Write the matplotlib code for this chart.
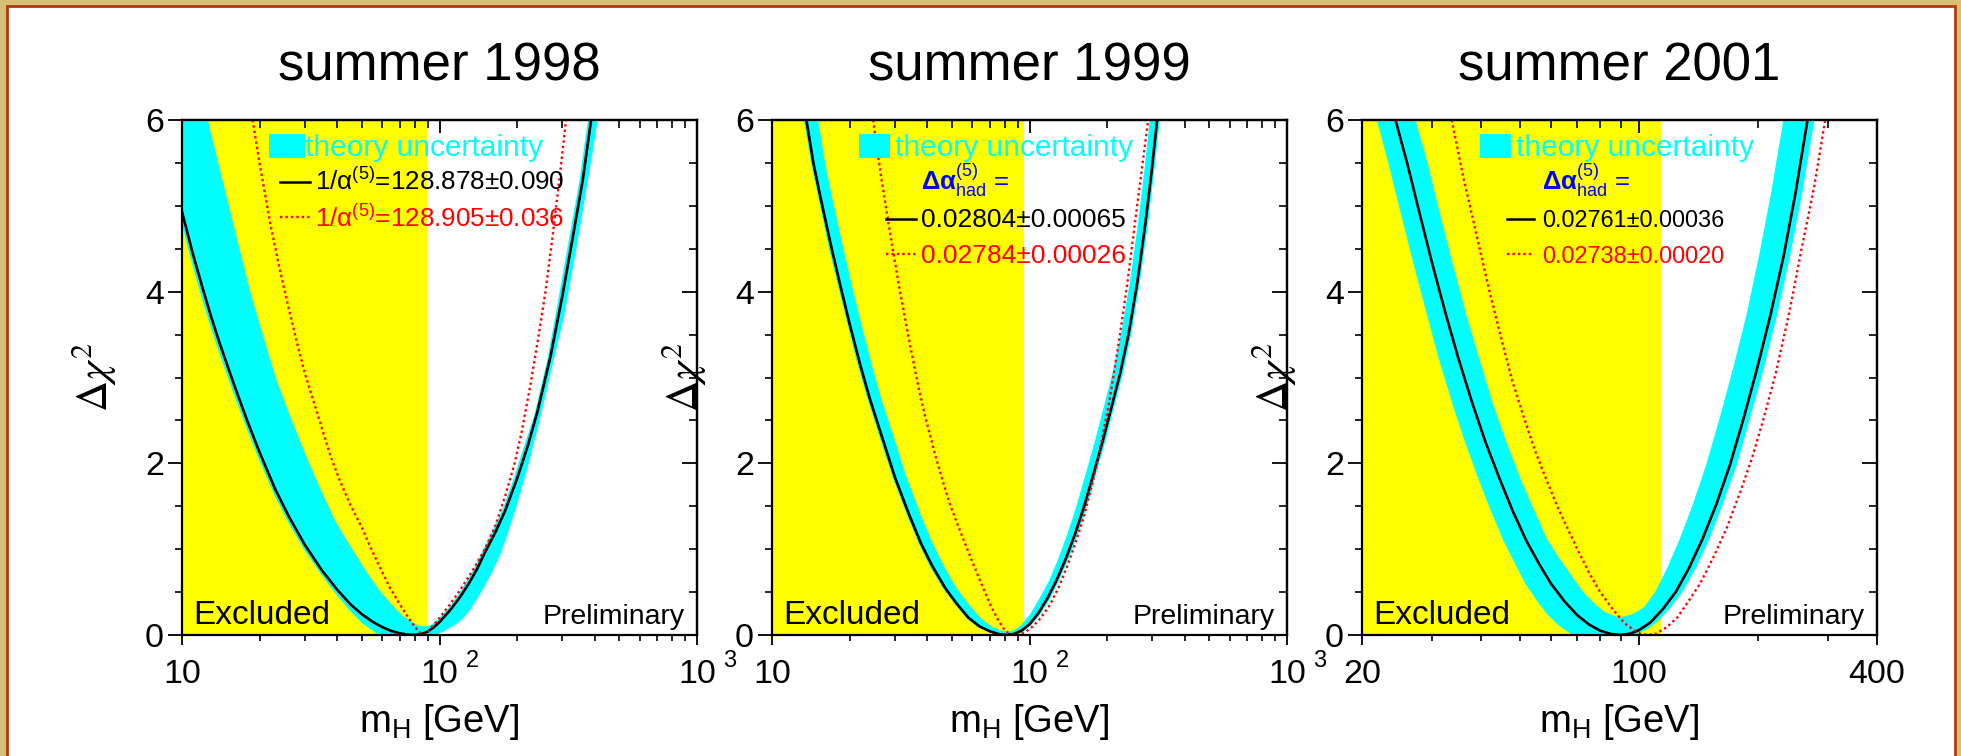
import matplotlib
matplotlib.use('Agg')
import matplotlib.pyplot as plt
from matplotlib.patches import Rectangle
from matplotlib.ticker import FixedLocator, FixedFormatter, NullFormatter

plt.rcParams['font.family'] = ['Liberation Sans', 'DejaVu Sans']
plt.rcParams['mathtext.fontset'] = 'custom'
plt.rcParams['mathtext.rm'] = 'Liberation Sans'
plt.rcParams['mathtext.it'] = 'Liberation Sans:italic'
plt.rcParams['mathtext.bf'] = 'Liberation Sans:bold'
plt.rcParams['mathtext.sf'] = 'Liberation Sans'

# ---- values: (m_H [GeV], delta chi^2) ----
titles = ['summer 1998', 'summer 1999', 'summer 2001']
lep_limit = [89.8, 95.2, 114.1]

# summer 1998
black98 = [(10, 4.93), (11, 4.45), (12, 4.05), (13, 3.7), (14, 3.4), (16, 2.9), (18, 2.48), (20, 2.13),
           (23, 1.7), (26, 1.38), (30, 1.05), (35, 0.75), (40, 0.53), (45, 0.36), (50, 0.24), (55, 0.154),
           (60, 0.091), (65, 0.047), (70, 0.02), (75, 0.005), (80, 0.0), (85, 0.01), (90, 0.04), (95, 0.09),
           (100, 0.15), (110, 0.29), (120, 0.44), (130, 0.6), (140, 0.77), (150, 0.96), (165, 1.2),
           (180, 1.45), (200, 1.82), (220, 2.2), (240, 2.6), (270, 3.25), (300, 3.95), (330, 4.65),
           (360, 5.3), (388, 6.0)]
red98 = [(18.8, 6.0), (20, 5.5), (22, 4.8), (24, 4.25), (26, 3.8), (28, 3.4), (30, 3.05), (33, 2.65),
         (37.6, 2.1), (41, 1.8), (45, 1.52), (50, 1.25), (54, 1.02), (58, 0.82), (64, 0.56), (70, 0.36),
         (75, 0.22), (80, 0.1), (84, 0.03), (87, 0.0), (90, 0.03), (95, 0.12), (100, 0.2), (110, 0.36),
         (120, 0.52), (135, 0.76), (150, 1.0), (165, 1.28), (180, 1.62), (195, 1.98), (208, 2.35),
         (225, 2.9), (240, 3.4), (258, 4.0), (275, 4.65), (292, 5.3), (310, 6.0)]
band98_outer = [(10, 4.78), (11, 4.3), (12, 3.9), (13, 3.56), (14, 3.27), (16, 2.78), (18, 2.37), (20, 2.03),
                (23, 1.61), (26, 1.3), (30, 0.98), (35, 0.69), (40, 0.46), (45, 0.28), (50, 0.14), (55, 0.05),
                (58, 0.0), (95, 0.0), (100, 0.02), (105, 0.05), (112, 0.1), (118, 0.14), (124, 0.2),
                (132, 0.3), (140, 0.42), (150, 0.57), (160, 0.73), (172, 0.93), (185, 1.2), (200, 1.52),
                (220, 1.95), (245, 2.5), (275, 3.15), (305, 3.72), (340, 4.5), (375, 5.25), (412, 6.0)]
band98_inner = [(377, 6.0), (350, 5.3), (320, 4.65), (291, 3.95), (262, 3.2), (233, 2.55), (213, 2.2),
                (194, 1.82), (175, 1.45), (160, 1.2), (146, 0.96), (136, 0.77), (126, 0.6), (116.5, 0.44),
                (107, 0.29), (97, 0.16), (92, 0.11), (87, 0.1), (83, 0.11), (77, 0.16), (71, 0.24),
                (65, 0.36), (58.5, 0.52), (51.5, 0.76), (45, 1.04), (39.5, 1.32), (34.5, 1.7), (30.2, 2.1),
                (26.3, 2.55), (23.1, 3.0), (20.6, 3.5), (18.4, 4.0), (15.2, 5.0), (12.6, 6.0), (10, 6.0)]

# summer 1999
black99 = [(13.6, 6.0), (14.5, 5.49), (15.5, 5.07), (17, 4.52), (18.5, 4.05), (20, 3.63), (22, 3.15),
           (24, 2.75), (27, 2.27), (30, 1.84), (34, 1.41), (38, 1.06), (42, 0.8), (47, 0.55), (52, 0.37),
           (58, 0.2), (64, 0.1), (70, 0.044), (76, 0.01), (81.5, 0.0), (87, 0.013), (93, 0.05),
           (100, 0.125), (108, 0.25), (117, 0.42), (127, 0.63), (138, 0.88), (150, 1.17), (163, 1.5),
           (177, 1.87), (192, 2.25), (208, 2.65), (225, 3.05), (243, 3.52), (262, 4.1), (282, 4.8),
           (298, 5.4), (313, 6.0)]
red99 = [(24.7, 6.0), (26.5, 5.35), (28.5, 4.75), (31, 4.1), (34, 3.45), (37, 2.9), (39.3, 2.55),
         (43, 2.1), (46, 1.8), (49, 1.53), (53, 1.26), (57, 1.02), (61, 0.8), (66, 0.55), (71, 0.33),
         (76, 0.16), (80, 0.06), (84, 0.01), (88, 0.0), (92, 0.01), (97, 0.04), (103, 0.1), (110, 0.19),
         (120, 0.35), (130, 0.56), (140, 0.8), (150, 1.05), (162, 1.36), (175, 1.75), (188, 2.16),
         (205, 2.75), (222, 3.4), (240, 4.1), (258, 4.85), (275, 5.5), (289, 6.0)]
band99_outer = [(13.3, 6.0), (14.2, 5.49), (15.2, 5.07), (16.6, 4.52), (18.1, 4.05), (19.6, 3.63),
                (21.5, 3.15), (23.5, 2.75), (26.4, 2.27), (29.4, 1.84), (33.3, 1.41), (37.2, 1.06),
                (41, 0.8), (46, 0.55), (51, 0.37), (56.8, 0.2), (62.5, 0.1), (68.5, 0.044), (74, 0.01),
                (78, 0.0), (86, 0.0), (90, 0.013), (95.5, 0.05), (102.5, 0.125), (110.7, 0.25), (120, 0.42),
                (130, 0.63), (141.5, 0.88), (154, 1.17), (167, 1.5), (181, 1.87), (197, 2.25), (213, 2.65),
                (231, 3.05), (249, 3.52), (268, 4.1), (289, 4.8), (305, 5.4), (321, 6.0)]
band99_inner = [(293, 6.0), (279, 5.4), (264, 4.8), (245, 4.1), (227, 3.52), (210, 3.05), (194, 2.65),
                (179, 2.25), (165, 1.87), (152, 1.5), (140, 1.17), (129, 0.88), (119, 0.63), (109, 0.42),
                (101, 0.25), (93.5, 0.125), (88, 0.06), (83, 0.04), (78, 0.05), (71, 0.1), (64.4, 0.2),
                (57.7, 0.37), (52, 0.55), (46.6, 0.8), (42.2, 1.06), (37.7, 1.41), (33.3, 1.84),
                (30, 2.27), (26.6, 2.75), (24.4, 3.15), (22.2, 3.63), (20.5, 4.05), (18.9, 4.52),
                (17.2, 5.07), (16.1, 5.49), (15.1, 6.0)]

# summer 2001
black01 = [(24.3, 6.0), (26, 5.5), (28, 4.9), (30, 4.35), (32.5, 3.75), (35, 3.23), (38, 2.7), (41, 2.25),
           (44.7, 1.8), (48, 1.45), (52, 1.1), (56, 0.83), (60, 0.6), (65, 0.39), (70, 0.23), (75, 0.12),
           (80, 0.05), (85, 0.012), (90, 0.0), (95, 0.015), (100, 0.055), (107, 0.146), (115, 0.3),
           (124, 0.5), (134, 0.78), (145, 1.12), (157, 1.52), (170, 1.98), (184, 2.52), (199, 3.1),
           (215, 3.72), (232, 4.4), (249, 5.15), (267, 6.0)]
red01 = [(33.7, 6.0), (36, 5.35), (39, 4.65), (42, 4.0), (45, 3.45), (48, 2.95), (51.6, 2.5), (55, 2.12),
         (58, 1.85), (62, 1.52), (66, 1.25), (70, 1.0), (75, 0.72), (80, 0.5), (86, 0.3), (92, 0.14),
         (97, 0.06), (101, 0.015), (105, 0.0), (110, 0.01), (117.7, 0.09), (125, 0.2), (133, 0.38),
         (143, 0.6), (155, 0.92), (167, 1.25), (180, 1.65), (193, 2.05), (206.5, 2.51), (222, 3.05),
         (240, 3.75), (258, 4.5), (277, 5.2), (296, 6.0)]
band01_outer = [(21.8, 6.0), (23.3, 5.5), (25.1, 4.9), (26.9, 4.35), (29.1, 3.75), (31.2, 3.23),
                (33.8, 2.7), (36.4, 2.25), (39.5, 1.8), (42.3, 1.45), (45.5, 1.1), (48.7, 0.83),
                (51.7, 0.6), (55.5, 0.39), (59, 0.23), (62.5, 0.12), (65.5, 0.05), (68, 0.0), (97, 0.0),
                (104, 0.055), (111, 0.146), (119.5, 0.3), (129, 0.5), (139.5, 0.78), (151, 1.12),
                (163, 1.52), (177, 1.98), (191, 2.52), (207, 3.1), (223.5, 3.72), (241, 4.4),
                (259, 5.15), (278, 6.0)]
band01_inner = [(232, 6.0), (216, 5.15), (201, 4.4), (187, 3.72), (173, 3.1), (160, 2.52), (148, 1.98),
                (137, 1.52), (127, 1.12), (118, 0.78), (110, 0.5), (103, 0.32), (96, 0.24), (89, 0.2),
                (82, 0.27), (77.5, 0.36), (72.5, 0.5), (67, 0.72), (62.5, 0.92), (58.5, 1.13),
                (54.5, 1.45), (50.5, 1.8), (46.3, 2.25), (42.8, 2.7), (39.5, 3.23), (36.6, 3.75),
                (33.8, 4.35), (31.5, 4.9), (29.3, 5.5), (27.3, 6.0)]

black_curves = [black98, black99, black01]
red_curves = [red98, red99, red01]
bands = [band98_outer + band98_inner, band99_outer + band99_inner, band01_outer + band01_inner]

xlims = [(10, 1000), (10, 1000), (20, 400)]
major_ticks = [[10, 100, 1000], [10, 100, 1000], [20, 100, 400]]
major_labels = [['10', '10', '10'], ['10', '10', '10'], ['20', '100', '400']]
tick_sups = [['', '2', '3'], ['', '2', '3'], ['', '', '']]
minor_ticks = [[20, 30, 40, 50, 60, 70, 80, 90, 200, 300, 400, 500, 600, 700, 800, 900],
               [20, 30, 40, 50, 60, 70, 80, 90, 200, 300, 400, 500, 600, 700, 800, 900],
               [30, 40, 50, 60, 70, 80, 90, 200, 300]]
y_major = [0, 2, 4, 6]
y_minor = [0.5, 1, 1.5, 2.5, 3, 3.5, 4.5, 5, 5.5]

black_text = ['1/α$^{(5)}$=128.878±0.090', '0.02804±0.00065', '0.02761±0.00036']
red_text = ['1/α$^{(5)}$=128.905±0.036', '0.02784±0.00026', '0.02738±0.00020']

# ---- layout (pixels of the 1961x756 figure) ----
W, H = 1961.0, 756.0
lefts = [182, 772, 1362]
AX = 515.0
sq_x = [(0.168, 0.239), (0.169, 0.229), (0.230, 0.289)]
unc_x = [0.239, 0.238, 0.299]
seg_x = [(0.190, 0.249), (0.221, 0.279), (0.281, 0.334)]
txt_x = [0.258, 0.290, 0.349]
seg_y = [(0.880, 0.811), (0.807, 0.740), (0.807, 0.740)]
txt_y = [(0.864, 0.793), (0.793, 0.723), (0.793, 0.723)]
txt_size = [18.7, 19, 16.9]

fig = plt.figure(figsize=(W / 100, H / 100), dpi=100, facecolor='#d8bf78')
fig.add_artist(Rectangle((6.6 / W, -0.05), (1955.0 - 6.6) / W, 1.05 - 6.2 / H,
                         transform=fig.transFigure, facecolor='white',
                         edgecolor='#b03a0e', lw=2.0, zorder=-10))

for i in range(3):
    ax = fig.add_axes([lefts[i] / W, 1 - 635 / H, AX / W, AX / H])
    ax.set_xscale('log')
    ax.set_xlim(*xlims[i])
    ax.set_ylim(0, 6)

    ax.axvspan(xlims[i][0], lep_limit[i], color='#ffff00', lw=0, zorder=0)
    bm, bd = zip(*bands[i])
    ax.fill(bm, bd, color='#00ffff', lw=0, zorder=1)
    km, kd = zip(*black_curves[i])
    ax.plot(km, kd, color='black', lw=1.9, zorder=3)
    rm, rd = zip(*red_curves[i])
    ax.plot(rm, rd, color='#ff0000', lw=1.7, ls=(0, (1, 1.3)), zorder=4)

    for s in ax.spines.values():
        s.set_linewidth(1.6)
        s.set_zorder(5)

    # ticks: left/bottom outward, top/right inward
    ax.xaxis.set_major_locator(FixedLocator(major_ticks[i]))
    ax.xaxis.set_major_formatter(FixedFormatter(major_labels[i]))
    ax.xaxis.set_minor_locator(FixedLocator(minor_ticks[i]))
    ax.xaxis.set_minor_formatter(NullFormatter())
    ax.yaxis.set_major_locator(FixedLocator(y_major))
    ax.yaxis.set_minor_locator(FixedLocator(y_minor))
    ax.tick_params(axis='x', which='major', direction='out', length=7.5, width=1.3,
                   labelsize=24.5, pad=10, top=False)
    ax.tick_params(axis='x', which='minor', direction='out', length=4, width=1.2, top=False)
    ax.tick_params(axis='y', which='major', direction='out', length=10, width=1.3,
                   labelsize=24.5, pad=3, right=False)
    ax.tick_params(axis='y', which='minor', direction='out', length=5, width=1.2, right=False)

    top = ax.secondary_xaxis('top')
    top.xaxis.set_major_locator(FixedLocator(major_ticks[i]))
    top.xaxis.set_minor_locator(FixedLocator(minor_ticks[i]))
    top.tick_params(axis='x', which='major', direction='in', length=9, width=1.3, labeltop=False)
    top.tick_params(axis='x', which='minor', direction='in', length=5.5, width=1.2, labeltop=False)
    top.spines['top'].set_linewidth(1.6)
    right = ax.secondary_yaxis('right')
    right.yaxis.set_major_locator(FixedLocator(y_major))
    right.yaxis.set_minor_locator(FixedLocator(y_minor))
    right.tick_params(axis='y', which='major', direction='in', length=11, width=1.3, labelright=False)
    right.tick_params(axis='y', which='minor', direction='in', length=6, width=1.2, labelright=False)
    right.spines['right'].set_linewidth(1.6)

    for t, sup in zip(major_ticks[i], tick_sups[i]):
        if sup:
            ax.annotate(sup, xy=(t, 0), xycoords=('data', 'axes fraction'),
                        xytext=(19, -23), textcoords='offset points',
                        fontsize=17, ha='left', va='baseline')

    # titles and axis labels
    ax.text(0.5, 1 + 40 / AX, titles[i], transform=ax.transAxes, ha='center',
            va='baseline', fontsize=38)
    ax.text(0.5, -97 / AX, 'm$_{\\rm H}$ [GeV]', transform=ax.transAxes, ha='center',
            va='baseline', fontsize=27.5)
    ax.text(-88 / AX, 0.5, r'$\Delta\chi^{2}$', transform=ax.transAxes, rotation=90,
            ha='center', va='center', fontsize=31, math_fontfamily='stix')

    ax.text(0.021, 0.021, 'Excluded', transform=ax.transAxes, fontsize=24,
            va='baseline', zorder=6)
    ax.text(1 - 12 / AX, 0.021, 'Preliminary', transform=ax.transAxes, fontsize=20.5,
            ha='right', va='baseline', zorder=6)

    # legend
    ax.add_patch(Rectangle((sq_x[i][0], 0.926), sq_x[i][1] - sq_x[i][0], 0.047,
                           transform=ax.transAxes, facecolor='#00ffff', lw=0, zorder=6))
    ax.text(unc_x[i], 0.930, 'theory uncertainty', transform=ax.transAxes, color='#00ffff',
            fontsize=21.5, va='baseline', zorder=6)
    if i > 0:
        ax.text(txt_x[i], 0.864, r'$\mathbf{\Delta\alpha}^{(5)}_{\rm had}$ =', transform=ax.transAxes,
                color='#0000ff', fontsize=18.5, va='baseline', zorder=6)
    ax.plot(seg_x[i], [seg_y[i][0]] * 2, transform=ax.transAxes, color='black', lw=1.8, zorder=6)
    ax.plot(seg_x[i], [seg_y[i][1]] * 2, transform=ax.transAxes, color='#ff0000', lw=1.7,
            ls=(0, (1, 1.3)), zorder=6)
    ax.text(txt_x[i], txt_y[i][0], black_text[i], transform=ax.transAxes, color='black',
            fontsize=txt_size[i], va='baseline', zorder=6)
    ax.text(txt_x[i], txt_y[i][1], red_text[i], transform=ax.transAxes, color='#ff0000',
            fontsize=txt_size[i], va='baseline', zorder=6)

fig.savefig('out.png', dpi=100, facecolor=fig.get_facecolor())
